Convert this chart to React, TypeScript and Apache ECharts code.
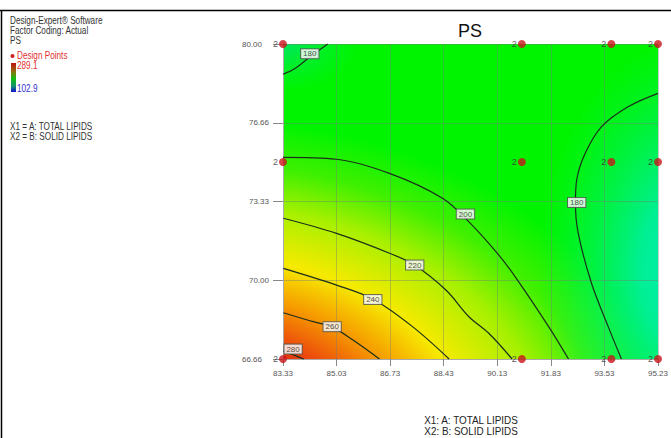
import React, { useEffect, useRef } from 'react';
import * as echarts from 'echarts';

// ---- axis ticks ----
const xTickLabels = ['83.33', '85.03', '86.73', '88.43', '90.13', '91.83', '93.53', '95.23'];
const yTickLabels = ['66.66', '70.00', '73.33', '76.66', '80.00'];
const X_MIN = 83.33;
const X_STEP = 1.7;
const Y_MIN = 66.66;
const Y_STEP = 3.335;

// ---- design points (A: total lipids, B: solid lipids), 2 runs each ----
const designX = [83.33, 90.91, 93.75, 95.23, 83.33, 90.91, 93.75, 95.23, 83.33, 90.91, 93.75, 95.23];
const designY = [80, 80, 80, 80, 75, 75, 75, 75, 66.66, 66.66, 66.66, 66.66];
const designRuns = [2, 2, 2, 2, 2, 2, 2, 2, 2, 2, 2, 2];

// ---- contour lines of PS ----
const contour180aX = [83.33, 83.71, 84.18, 84.75];
const contour180aY = [78.72, 78.96, 79.45, 80.0];
const contour200X = [83.33, 85.03, 86.71, 88.39, 89.23, 90.18, 90.81, 91.76, 92.39];
const contour200Y = [75.2, 75.12, 74.52, 73.47, 72.47, 71.06, 69.93, 68.03, 66.66];
const contour220X = [83.34, 85.03, 86.71, 87.5, 88.5, 89.23, 89.86, 90.6];
const contour220Y = [72.62, 71.98, 71.14, 70.64, 69.58, 68.45, 67.75, 66.66];
const contour240X = [83.34, 85.03, 86.18, 87.44, 88.6];
const contour240Y = [70.5, 69.79, 69.2, 68.03, 66.66];
const contour260X = [83.34, 84.29, 84.87, 85.55, 86.39];
const contour260Y = [68.62, 68.24, 68.03, 67.46, 66.66];
const contour280X = [83.34, 83.74, 83.99];
const contour280Y = [67.0, 66.79, 66.66];
const contour180bX = [95.23, 94.28, 93.44, 92.92, 92.65, 92.61, 92.7, 93.12, 93.65, 94.07];
const contour180bY = [77.91, 77.34, 76.5, 75.37, 74.24, 73.27, 71.98, 69.87, 68.03, 66.66];

const contourLabelText = ['180', '200', '220', '240', '260', '280', '180'];
const contourLabelX = [84.18, 89.12, 87.51, 86.18, 84.89, 83.65, 92.65];
const contourLabelY = [79.59, 72.8, 70.64, 69.18, 68.03, 67.08, 73.29];

// ---- legend texts ----
const infoLines = ['Design-Expert® Software', 'Factor Coding: Actual', 'PS'];
const factorLines = ['X1 = A: TOTAL LIPIDS', 'X2 = B: SOLID LIPIDS'];
const colorMax = '289.1';
const colorMin = '102.9';
const chartTitle = 'PS';
const xTitleLines = ['X1: A: TOTAL LIPIDS', 'X2: B: SOLID LIPIDS'];

const toXi = (v: number) => (v - X_MIN) / X_STEP;
const toYi = (v: number) => (v - Y_MIN) / Y_STEP;

const NARROW = "'Liberation Sans Narrow', 'Arial Narrow', 'Liberation Sans', Arial, sans-serif";
const SANS = "'Liberation Sans', Arial, sans-serif";

function buildOption(): any {
  const contours = [
    [contour180aX, contour180aY],
    [contour200X, contour200Y],
    [contour220X, contour220Y],
    [contour240X, contour240Y],
    [contour260X, contour260Y],
    [contour280X, contour280Y],
    [contour180bX, contour180bY],
  ];

  const ellipse = (cx: number, cy: number, rx: number, ry: number, stops: any[]) => ({
    type: 'rect',
    shape: { x: cx - rx, y: cy - ry, width: 2 * rx, height: 2 * ry },
    style: { fill: new echarts.graphic.RadialGradient(0.5, 0.5, 0.5, stops) },
    silent: true,
  });

  const background = {
    type: 'custom',
    coordinateSystem: 'cartesian2d',
    clip: true,
    silent: true,
    z: 0,
    data: [[0, 0]],
    renderItem: (params: any) => {
      const cs = params.coordSys;
      const x0 = cs.x, y0 = cs.y, W = cs.width, H = cs.height;
      return {
        type: 'group',
        children: [
          { type: 'rect', shape: { x: x0, y: y0, width: W, height: H }, style: { fill: '#00f400' } },
          ellipse(x0 - 0.239 * W, y0 + H + 0.286 * H, 1.273 * W, 1.051 * H, [
            { offset: 0, color: '#d82008' },
            { offset: 0.33, color: '#e4340e' },
            { offset: 0.37, color: '#ec4a0c' },
            { offset: 0.475, color: '#f69a00' },
            { offset: 0.59, color: '#f6ea00' },
            { offset: 0.74, color: '#a8f000' },
            { offset: 0.862, color: '#40f000' },
            { offset: 1, color: '#00f400' },
          ]),
          ellipse(x0 + 1.1 * W, y0 + 0.72 * H, 0.42 * W, 0.75 * H, [
            { offset: 0, color: 'rgba(0,235,200,0.95)' },
            { offset: 0.35, color: 'rgba(0,238,185,0.8)' },
            { offset: 0.75, color: 'rgba(0,240,140,0.3)' },
            { offset: 1, color: 'rgba(0,240,100,0)' },
          ]),
          ellipse(x0, y0, 0.2 * W, 0.15 * H, [
            { offset: 0, color: 'rgba(0,225,120,0.8)' },
            { offset: 1, color: 'rgba(0,240,80,0)' },
          ]),
        ],
      };
    },
  };

  const lineSeries = contours.map(([xs, ys]) => ({
    type: 'line',
    data: xs.map((v, i) => [toXi(v), toYi(ys[i])]),
    symbol: 'none',
    showSymbol: false,
    smooth: 0.35,
    clip: false,
    silent: true,
    z: 3,
    lineStyle: { color: '#1b2f1b', width: 1.2 },
  }));

  const labelSeries = {
    type: 'scatter',
    data: contourLabelX.map((v, i) => [toXi(v), toYi(contourLabelY[i]), contourLabelText[i]]),
    symbolSize: 1,
    itemStyle: { color: 'rgba(0,0,0,0)' },
    clip: false,
    silent: true,
    z: 4,
    label: {
      show: true,
      position: 'inside',
      formatter: (p: any) => p.data[2],
      fontSize: 8,
      fontFamily: NARROW,
      color: '#222',
      backgroundColor: '#ffffff',
      borderColor: '#555',
      borderWidth: 1,
      padding: [1, 2, 0, 2],
    },
  };

  const designSeries = {
    type: 'scatter',
    data: designX.map((v, i) => [toXi(v), toYi(designY[i]), designRuns[i]]),
    symbol: 'circle',
    symbolSize: 8,
    itemStyle: { color: '#c8141a' },
    clip: false,
    silent: true,
    z: 5,
    label: {
      show: true,
      position: 'left',
      distance: 1,
      formatter: (p: any) => String(p.data[2]),
      fontSize: 9,
      fontFamily: NARROW,
      color: '#333',
    },
  };

  const txt = (x: number, y: number, text: string, extra: any = {}, scaleX = 0.82) => ({
    type: 'text',
    x,
    y,
    scaleX,
    silent: true,
    style: {
      text,
      fill: '#333',
      fontSize: 10,
      fontFamily: NARROW,
      textVerticalAlign: 'middle',
      verticalAlign: 'middle',
      ...extra,
    },
  });

  const graphic: any[] = [
    { type: 'line', silent: true, shape: { x1: 0, y1: 10.5, x2: 671, y2: 10.5 }, style: { stroke: '#000', lineWidth: 1.5 } },
    { type: 'line', silent: true, shape: { x1: 1.5, y1: 10, x2: 1.5, y2: 438 }, style: { stroke: '#000', lineWidth: 1.5 } },
    txt(10, 21, infoLines[0]),
    txt(10, 31, infoLines[1]),
    txt(10, 41, infoLines[2]),
    { type: 'circle', silent: true, shape: { cx: 12.5, cy: 56, r: 2 }, style: { fill: '#d02020' } },
    txt(17, 55.5, 'Design Points', { fill: '#e03030' }),
    {
      type: 'rect',
      silent: true,
      shape: { x: 11, y: 63, width: 5, height: 29 },
      style: {
        fill: new echarts.graphic.LinearGradient(0, 0, 0, 1, [
          { offset: 0, color: '#c01010' },
          { offset: 0.3, color: '#907010' },
          { offset: 0.55, color: '#10c010' },
          { offset: 0.8, color: '#109070' },
          { offset: 1, color: '#1010d0' },
        ]),
      },
    },
    txt(17, 66, colorMax, { fill: '#e03030' }),
    txt(17, 89, colorMin, { fill: '#3030d0' }),
    txt(10, 127, factorLines[0]),
    txt(10, 137, factorLines[1]),
    txt(470, 31, chartTitle, { fill: '#111', fontSize: 18, fontFamily: SANS, textAlign: 'center' }, 1),
    txt(471, 420, xTitleLines[0], { fill: '#222', fontSize: 11, textAlign: 'center' }, 0.9),
    txt(471, 431.5, xTitleLines[1], { fill: '#222', fontSize: 11, textAlign: 'center' }, 0.9),
  ];

  return {
    animation: false,
    backgroundColor: '#ffffff',
    grid: { left: 283, top: 44, width: 377, height: 315, containLabel: false },
    xAxis: {
      type: 'value',
      min: 0,
      max: 7,
      interval: 1,
      z: 1,
      axisLine: { show: true, lineStyle: { color: '#aaa', width: 1 } },
      axisTick: { show: true, length: 7, lineStyle: { color: '#888' } },
      axisLabel: {
        formatter: (v: number) => xTickLabels[Math.round(v)] ?? '',
        fontSize: 8,
        fontFamily: NARROW,
        color: '#555',
        margin: 10,
      },
      splitLine: { show: true, lineStyle: { color: 'rgba(120,120,120,0.4)', width: 1 } },
    },
    yAxis: {
      type: 'value',
      min: 0,
      max: 4,
      interval: 1,
      z: 1,
      axisLine: { show: true, lineStyle: { color: '#aaa', width: 1 } },
      axisTick: { show: true, length: 10, lineStyle: { color: '#888' } },
      axisLabel: {
        formatter: (v: number) => {
          const i = Math.round(v);
          const s = yTickLabels[i] ?? '';
          return i === 0 || i === 4 ? `{p|${s}}` : s;
        },
        rich: { p: { padding: [0, 7, 0, 0], fontSize: 8, fontFamily: NARROW, color: '#555' } },
        fontSize: 8,
        fontFamily: NARROW,
        color: '#555',
        margin: 14,
      },
      splitLine: { show: true, lineStyle: { color: 'rgba(120,120,120,0.4)', width: 1 } },
    },
    graphic,
    series: [background, ...lineSeries, labelSeries, designSeries],
  };
}

export default function App() {
  const ref = useRef<HTMLDivElement>(null);
  useEffect(() => {
    if (!ref.current) return;
    const chart = echarts.init(ref.current, null, { renderer: 'svg' });
    chart.setOption(buildOption());
    return () => chart.dispose();
  }, []);
  return (
    <div
      ref={ref}
      style={{ position: 'absolute', left: 0, top: 0, width: 671, height: 438, background: '#fff' }}
    />
  );
}
